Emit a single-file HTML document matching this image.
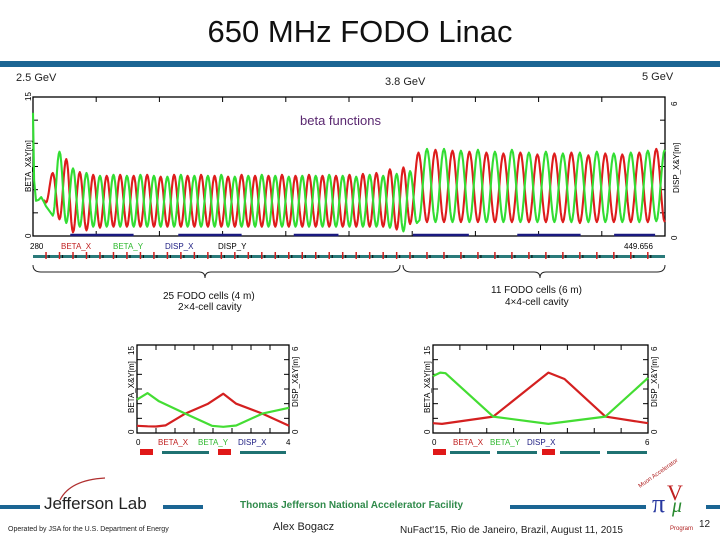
<!DOCTYPE html>
<html><head><meta charset="utf-8"><style>
body{margin:0;width:720px;height:540px;background:#fff;overflow:hidden;font-family:"Liberation Sans",sans-serif;position:relative}
.t{position:absolute;white-space:nowrap}
</style></head><body>
<div class="t" style="left:0;width:720px;top:14px;text-align:center;font-size:31px;color:#111">650 MHz FODO Linac</div>
<div style="position:absolute;left:0;top:61px;width:720px;height:6px;background:#1b6593"></div>
<div class="t" style="left:16px;top:72px;font-size:11px;color:#222">2.5 GeV</div>
<div class="t" style="left:385px;top:76px;font-size:11px;color:#222">3.8 GeV</div>
<div class="t" style="left:642px;top:71px;font-size:11px;color:#222">5 GeV</div>
<svg id="main" width="720" height="540" style="position:absolute;left:0;top:0" font-family="Liberation Sans, sans-serif"></svg>
<div class="t" style="left:240px;top:500px;font-size:10px;font-weight:bold;color:#2f8a4a">Thomas Jefferson National Accelerator Facility</div>
<div class="t" style="left:44px;top:494px;font-size:17px;color:#222">Jefferson Lab</div>
<div class="t" style="left:8px;top:526px;font-size:7px;color:#222">Operated by JSA for the U.S. Department of Energy</div>
<div class="t" style="left:273px;top:521px;font-size:11px;color:#222">Alex Bogacz</div>
<div class="t" style="left:400px;top:525px;font-size:10px;color:#222">NuFact'15, Rio de Janeiro, Brazil, August 11, 2015</div>
<div class="t" style="left:699px;top:519px;font-size:10px;color:#222">12</div>
<script>
// ---- top chart data ----
const sRange=[280,449.656];
const transS=[280,280.3,280.8,281.5,282.2,282.9,283.5];
const transBX=[null,null,null,null,null,3.9,3.6];
const transBY=[13.3,6,3.8,3.9,4.2,3.7,3.2];
const sec1Start=283.5, sec1Len=3.62, sec1Count=27;
const sec2Start=381.2, sec2Len=4.56, sec2Count=15;
const betaXPeak=[6.8,8.3,6.9,6.6,6.5,6.6,6.5,6.6,6.4,6.6,6.5,6.6,6.5,6.4,6.6,6.5,6.5,6.6,6.5,6.6,6.5,6.5,6.6,6.7,6.8,7.2,7.4,
  9.0,9.3,9.2,9.1,9.0,8.9,9.0,8.8,8.9,9.0,8.7,8.9,8.8,9.0,9.4];
const betaYPeak=[9.1,7.3,6.8,6.5,6.6,6.5,6.6,6.5,6.4,6.6,6.5,6.5,6.6,6.4,6.5,6.6,6.5,6.4,6.5,6.5,6.6,6.5,6.4,6.6,6.5,6.7,7.0,
  9.4,9.4,9.2,9.3,9.1,9.3,9.0,9.1,8.9,9.0,9.1,8.9,9.0,9.2,9.3];
const betaXMin=[3.6,1.8,0.4,0.6,0.9,1.0,1.0,1.0,1.0,1.0,1.0,1.0,1.0,1.0,1.0,1.0,1.0,1.0,1.0,1.0,1.0,1.0,1.0,1.0,1.0,1.0,0.7,
  1.3,1.5,1.5,1.5,1.5,1.5,1.5,1.5,1.5,1.5,1.4,1.5,1.5,1.5,1.5,1.5];
const betaYMin=[2.2,1.4,1.0,1.0,1.0,1.0,1.0,1.0,1.0,1.0,1.0,1.0,1.0,1.0,1.0,1.0,1.0,1.0,1.0,1.0,1.0,1.0,1.0,1.0,1.0,0.9,0.5,
  1.4,1.5,1.5,1.5,1.5,1.5,1.5,1.5,1.5,1.5,1.5,1.5,1.5,1.5,1.6,1.6];
// ---- bottom charts data ----
const leftS=[0,0.28,0.5,0.75,1.27,1.87,2.27,2.61,3.3,4];
const leftBX=[1.22,1.15,1.1,1.3,3.3,5.0,6.7,5.0,3.3,1.22];
const leftBYs=[0,0.28,0.58,1.27,1.97,2.27,2.61,3.3,4];
const leftBY=[5.7,6.8,5.4,3.3,1.22,1.05,1.28,3.3,4.3];
const rightS=[0,0.25,1.68,3.22,3.67,4.81,6];
const rightBX=[1.67,1.55,2.8,10.3,9.2,2.8,1.67];
const rightBYs=[0,0.2,0.35,1.68,3.22,4.81,6];
const rightBY=[9.7,10.3,10.2,2.8,1.55,2.8,9.4];

const NS='http://www.w3.org/2000/svg';
const svg=document.getElementById('main');
function mk(tag,attrs,parent){const e=document.createElementNS(NS,tag);for(const k in attrs)e.setAttribute(k,attrs[k]);(parent||svg).appendChild(e);return e;}
function txt(x,y,s,size,fill,rot,name){const e=mk('text',{x:x,y:y,'font-size':size,fill:fill});if(rot)e.setAttribute('transform','rotate(-90 '+x+' '+y+')');e.textContent=s;


return e;}

function frame(x0,y0,x1,y1,nx,ny,name){
  const r=mk('rect',{x:x0,y:y0,width:x1-x0,height:y1-y0,fill:'none',stroke:'#000','stroke-width':1.3});
  
  
  for(let i=1;i<nx;i++){const x=x0+(x1-x0)*i/nx;mk('line',{x1:x,y1:y0,x2:x,y2:y0+5,stroke:'#000'});mk('line',{x1:x,y1:y1,x2:x,y2:y1-5,stroke:'#000'});}
  for(let i=1;i<ny;i++){const y=y0+(y1-y0)*i/ny;mk('line',{x1:x0,y1:y,x2:x0+5,y2:y,stroke:'#000'});mk('line',{x1:x1,y1:y,x2:x1-5,y2:y,stroke:'#000'});}
}
function poly(pts,color,name,w){const p=mk('polyline',{points:pts.map(q=>q[0].toFixed(1)+','+q[1].toFixed(1)).join(' '),fill:'none',stroke:color,'stroke-width':w||2.6,'stroke-linejoin':'round'});

}

// ---- top chart ----
const T={x0:33,x1:665,y0:97,y1:236,ymax:15};
const tx=s=>T.x0+(s-sRange[0])/(sRange[1]-sRange[0])*(T.x1-T.x0);
const ty=v=>T.y1-v/T.ymax*(T.y1-T.y0);
frame(T.x0,T.y0,T.x1,T.y1,10,6,'top-plot-frame');
const dispSegs=[[290,307],[319,336],[350,362],[382,397],[410,427],[436,447]];
dispSegs.forEach(d=>{const l=mk('line',{x1:tx(d[0]),y1:T.y1-1,x2:tx(d[1]),y2:T.y1-1,stroke:'#1a1a80','stroke-width':2.5});

});
const cells=[];
for(let i=0;i<sec1Count;i++)cells.push([sec1Start+i*sec1Len,sec1Len]);
for(let i=0;i<sec2Count;i++)cells.push([sec2Start+i*sec2Len,sec2Len]);
function series(peaks,mins,shift,transV){
  const pts=[];
  transS.forEach((s,i)=>{if(transV[i]!=null)pts.push([tx(s),ty(transV[i])]);});
  cells.forEach((c,i)=>{
    const L=c[1],s0=c[0]+shift*L;
    const pk=peaks[i],mA=mins[i],mB=mins[i+1]!=null?mins[i+1]:mins[i];
    for(let k=(i==0?0:1);k<=16;k++){const u=k/16;const s=s0+u*L;if(s>sRange[1])break;
      const mn=u<0.5?mA:mB;const v=mn+(pk-mn)*Math.pow(Math.sin(Math.PI*u),2);pts.push([tx(s),ty(v)]);}
  });
  return pts;
}
poly(series(betaXPeak,betaXMin,0,transBX),'#dd1c1c','beta-x-line',2.1);
poly(series(betaYPeak,betaYMin,0.5,transBY),'#33dd33','beta-y-line',2.1);
txt(300,125,'beta functions',13,'#5a2870',false,'annotation-beta-functions');
txt(31,101,'15',8,'#000',true,'top-y-tick-15');
txt(31,238,'0',8,'#000',true,'top-y-tick-0');
txt(31,192,'BETA_X&Y[m]',8,'#000',true,'top-y-axis-title');
txt(677,106,'6',8,'#000',true,'top-y2-tick-6');
txt(677,240,'0',8,'#000',true,'top-y2-tick-0');
txt(679,193,'DISP_X&Y[m]',8,'#000',true,'top-y2-axis-title');
txt(30,249,'280',8,'#000',false,'top-x-start');
txt(61,249,'BETA_X',8,'#c02020',false,'legend-beta-x');
txt(113,249,'BETA_Y',8,'#2db82d',false,'legend-beta-y');
txt(165,249,'DISP_X',8,'#1a1a80',false,'legend-disp-x');
txt(218,249,'DISP_Y',8,'#000',false,'legend-disp-y');
txt(624,249,'449.656',8,'#000',false,'top-x-end');
const strip=mk('rect',{x:33,y:255,width:632,height:3,fill:'#2a7a7a'});


cells.forEach(c=>{const x=tx(c[0]);if(x<T.x1){mk('line',{x1:x,y1:252,x2:x,y2:259,stroke:'#d02020','stroke-width':1.5});mk('line',{x1:x+3,y1:255,x2:x+3,y2:258,stroke:'#111','stroke-width':1.2});}});
function brace(x0,x1,xm,name){const p=mk('path',{d:`M${x0},265 Q${x0},272 ${x0+8},272 L${xm-6},272 Q${xm},272 ${xm},278 Q${xm},272 ${xm+6},272 L${x1-8},272 Q${x1},272 ${x1},265`,fill:'none',stroke:'#222','stroke-width':1});

}
brace(33,400,205,'brace-section-1');brace(403,665,540,'brace-section-2');
txt(163,299,'25 FODO cells (4 m)',10,'#111',false,'section-1-label');
txt(178,310,'2×4-cell cavity',10,'#111',false,'section-1-cavity');
txt(491,293,'11 FODO cells (6 m)',10,'#111',false,'section-2-label');
txt(505,305,'4×4-cell cavity',10,'#111',false,'section-2-cavity');

// ---- bottom charts ----
function small(x0,x1,smax,sArr,bx,syArr,by,pre,endLabel,legX,elems){
  const y0=345,y1=433;
  const fx=s=>x0+s/smax*(x1-x0), fy=v=>y1-v/15*(y1-y0);
  frame(x0,y0,x1,y1,8,6,pre+'-frame');
  poly(sArr.map((s,i)=>[fx(s),fy(bx[i])]),'#d42020',pre+'-beta-x',2.2);
  poly(syArr.map((s,i)=>[fx(s),fy(by[i])]),'#44dd33',pre+'-beta-y',2.2);
  txt(x0-3,y1+1,'0',8,'#000',true,pre+'-y-tick-0');
  txt(x0-3,y0+10,'15',8,'#000',true,pre+'-y-tick-15');
  txt(x0-3,y0+68,'BETA_X&Y[m]',8,'#000',true,pre+'-y-title');
  txt(x1+9,y1+1,'0',8,'#000',true,pre+'-y2-tick-0');
  txt(x1+9,y0+6,'6',8,'#000',true,pre+'-y2-tick-6');
  txt(x1+9,y0+62,'DISP_X&Y[m]',8,'#000',true,pre+'-y2-title');
  txt(x0-1,y1+12,'0',8,'#000',false,pre+'-x-tick-0');
  txt(x1-3,y1+12,endLabel,8,'#000',false,pre+'-x-tick-end');
  txt(legX[0],y1+12,'BETA_X',8,'#c02020',false,pre+'-legend-beta-x');
  txt(legX[1],y1+12,'BETA_Y',8,'#2db82d',false,pre+'-legend-beta-y');
  txt(legX[2],y1+12,'DISP_X',8,'#1a1a80',false,pre+'-legend-disp-x');
  elems.forEach(e=>{const r=mk('rect',{x:e[0],y:e[2]=='q'?449:451,width:e[1]-e[0],height:e[2]=='q'?6:3,fill:e[2]=='q'?'#e01818':'#1f7272'});
  
  });
}
small(137,289,4,leftS,leftBX,leftBYs,leftBY,'left-cell','4',[158,198,238],
  [[140,153,'q'],[162,209,'c'],[218,231,'q'],[240,286,'c']]);
small(433,648,6,rightS,rightBX,rightBYs,rightBY,'right-cell','6',[453,490,527],
  [[433,446,'q'],[450,490,'c'],[497,537,'c'],[542,555,'q'],[560,600,'c'],[607,647,'c']]);

[[0,40],[163,203],[510,646],[706,720]].forEach(b=>{const r=mk('rect',{x:b[0],y:505,width:b[1]-b[0],height:4,fill:'#1b6593'});

});
const sw=mk('path',{d:'M60,500 Q70,480 105,478',fill:'none',stroke:'#b03030','stroke-width':1.2});


const g=mk('g',{});


mk('text',{x:652,y:512,'font-size':26,fill:'#2838a0','font-family':'Liberation Serif, serif'},g).textContent='π';
mk('text',{x:667,y:500,'font-size':22,fill:'#c02020','font-family':'Liberation Serif, serif'},g).textContent='V';
mk('text',{x:672,y:512,'font-size':20,fill:'#2a8a30','font-family':'Liberation Serif, serif','font-style':'italic'},g).textContent='μ';
mk('text',{x:640,y:488,'font-size':6,fill:'#b02020',transform:'rotate(-35 640 488)'},g).textContent='Muon Accelerator';
mk('text',{x:670,y:530,'font-size':6,fill:'#b02020'},g).textContent='Program';
</script>
</body></html>
